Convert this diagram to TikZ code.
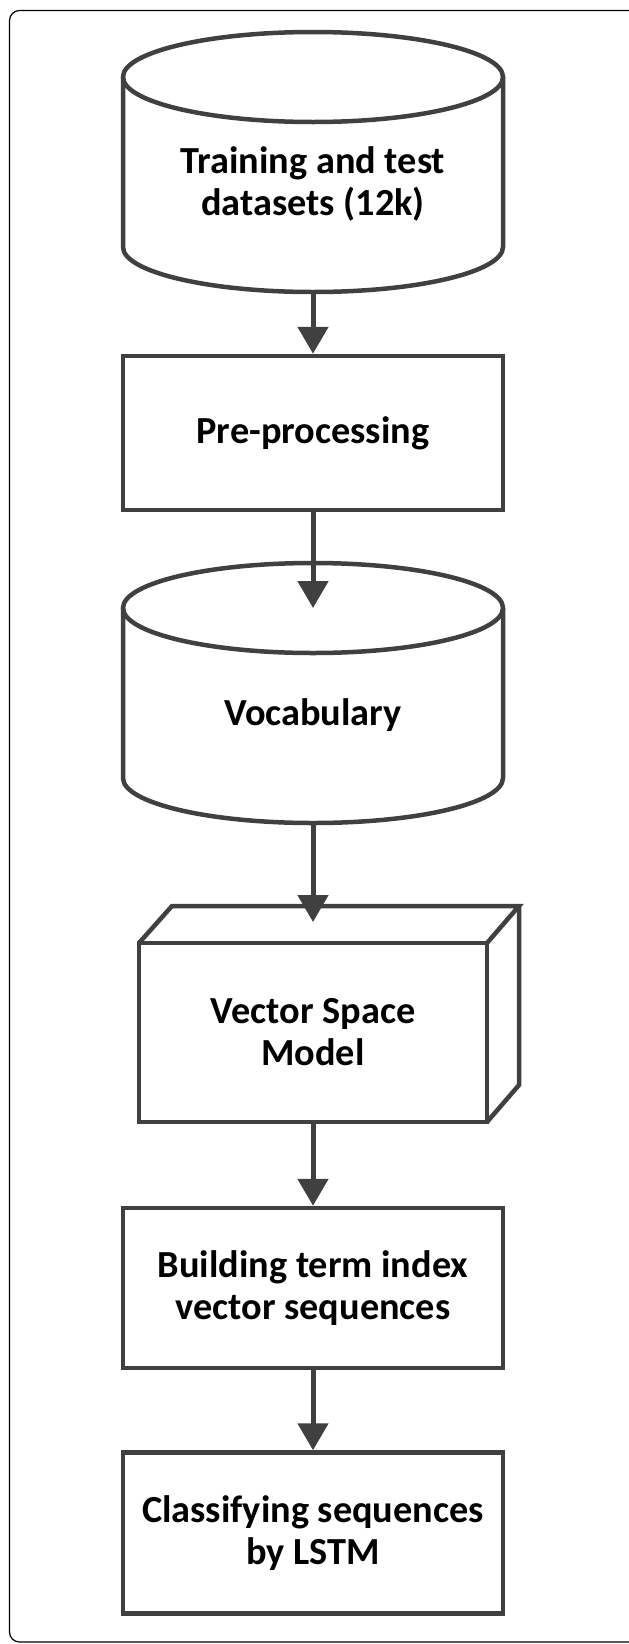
\documentclass[tikz,border=0pt]{standalone}
\usepackage{fontspec}
\setmainfont{Carlito}
\usetikzlibrary{arrows.meta}
\definecolor{edge}{HTML}{404040}
\begin{document}
\begin{tikzpicture}[x=1pt,y=1pt,
        outline/.style={draw=edge,line width=4.5pt},
        txt/.style={font=\bfseries\fontsize{38.3}{42}\selectfont,align=center},
        box/.style={outline,txt,minimum width=380pt,inner sep=0pt},
        arr/.style={draw=edge,line width=5pt,-{Triangle[width=30pt,length=27pt]}},
        outerframe/.style={draw=black,line width=1.2pt,rounded corners=10pt}]
        \useasboundingbox (0,0) rectangle (629,-1644);
        \draw[outerframe] (9.5,-10.5) rectangle (645,-1642);

        % Cylinders (top ellipse centre / bottom centre)
        \pgfmathsetmacro{\rx}{190}
        \pgfmathsetmacro{\ry}{45}
        \foreach \ytop/\ybot in {77/247,608/778} {
            \draw[outline] (313,-\ytop) ellipse [x radius=\rx, y radius=\ry];
            \draw[outline] (313-\rx,-\ytop) -- (313-\rx,-\ybot)
                arc[start angle=180,end angle=360,x radius=\rx,y radius=\ry] -- (313+\rx,-\ytop);
        }
        \node[txt] (data) at (313,-184) {Training and test\\datasets (12k)};
        \node[txt] (vocab) at (313,-715) {Vocabulary};
        \coordinate (data-s) at (313,-292);
        \coordinate (vocab-c) at (313,-608);
        \coordinate (vocab-s) at (313,-823);

        % Boxes
        \node[box,minimum height=154pt] (prep) at (313,-433) {Pre-processing};
        \node[box,minimum width=348pt,minimum height=179pt] (vsm) at (313,-1032.5) {Vector Space\\Model};
        \draw[outline] (139,-943) -- (172,-906) -- (519,-906) -- (487,-943);
        \draw[outline] (519,-906) -- (519,-1085) -- (487,-1122);
        \coordinate (vsm-c) at (313,-922);
        \node[box,minimum height=160pt] (index) at (313,-1288) {Building term index\\vector sequences};
        \node[box,minimum height=161pt] (lstm) at (313,-1533) {Classifying sequences\\by LSTM};

        % Arrows
        \draw[arr] (data-s) -- (prep.north);
        \draw[arr] (prep.south) -- (vocab-c);
        \draw[arr] (vocab-s) -- (vsm-c);
        \draw[arr] (vsm.south) -- (index.north);
        \draw[arr] (index.south) -- (lstm.north);
    \end{tikzpicture}
\end{document}
